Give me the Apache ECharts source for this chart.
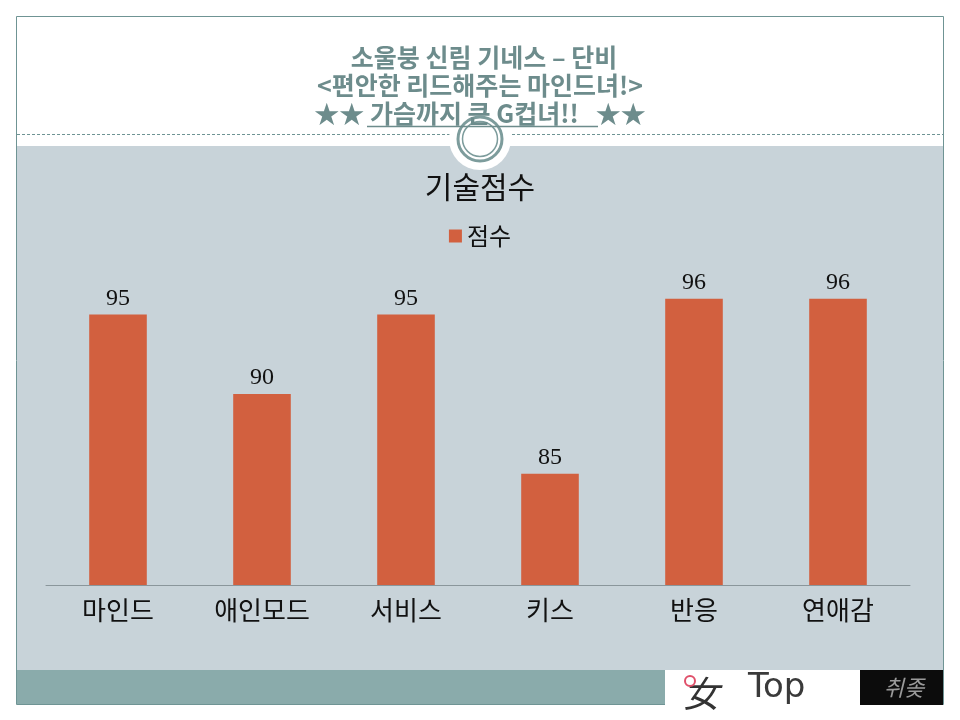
<!DOCTYPE html>
<html>
<head>
<meta charset="utf-8">
<script src="https://cdn.jsdelivr.net/npm/echarts@6/dist/echarts.min.js"></script>
<style>html,body{margin:0;padding:0;background:#fff;}#c{width:960px;height:720px;}</style>
</head>
<body>
<div id="c"></div>
<script>
const categories = ['마인드', '애인모드', '서비스', '키스', '반응', '연애감'];
const scores = [95, 90, 95, 85, 96, 96];
const seriesName = '점수';
const chartTitle = '기술점수';
const headLines = ['소울붕 신림 기네스 – 단비', '<편안한 리드해주는 마인드녀!>', '★★ 가슴까지 큰 G컵녀!!   ★★'];

const chart = echarts.init(document.getElementById('c'), null, {renderer: 'canvas'});
const KR = '"Noto Sans CJK KR", sans-serif';
const SERIF = '"Liberation Serif", "DejaVu Serif", serif';
const teal = '#6f9494';
const headColor = '#6d8c8c';

chart.setOption({
  backgroundColor: '#ffffff',
  animation: false,
  title: {
    text: chartTitle, left: 'center', top: 167,
    textStyle: {fontFamily: KR, fontSize: 30, fontWeight: 'normal', color: '#111'}
  },
  legend: {
    data: [seriesName], top: 219, left: 'center',
    icon: 'rect', itemWidth: 13, itemHeight: 13, itemGap: 6,
    textStyle: {fontFamily: KR, fontSize: 24, color: '#111'}
  },
  grid: {left: 46, right: 50, top: 235, bottom: 135, containLabel: false},
  xAxis: {
    type: 'category', data: categories,
    axisLine: {lineStyle: {color: '#8a969b', width: 1}},
    axisTick: {show: false},
    axisLabel: {fontFamily: KR, fontSize: 26, color: '#111', margin: 12}
  },
  yAxis: {type: 'value', min: 78, max: 100, show: false, splitLine: {show: false}},
  series: [{
    name: seriesName, type: 'bar', data: scores, barWidth: '40%',
    itemStyle: {color: '#d2603f'},
    label: {show: true, position: 'top', distance: 4, fontFamily: SERIF, fontSize: 24, color: '#111'}
  }],
  graphic: [
    {type: 'rect', z: -10, shape: {x: 16.5, y: 16.5, width: 927, height: 688}, style: {fill: '#ffffff', stroke: teal, lineWidth: 1}},
    {type: 'rect', z: -9, shape: {x: 17, y: 146, width: 926, height: 524}, style: {fill: '#c8d3d9'}},
    {type: 'rect', z: -9, shape: {x: 17, y: 670, width: 926, height: 34}, style: {fill: '#8aabab'}},
    {type: 'line', z: -8, shape: {x1: 17, y1: 134.5, x2: 943, y2: 134.5}, style: {stroke: teal, lineWidth: 1, lineDash: [3, 2]}},
    {type: 'circle', z: -7, shape: {cx: 480, cy: 139, r: 31}, style: {fill: '#ffffff'}},
    {type: 'circle', z: -6, shape: {cx: 480, cy: 139, r: 22}, style: {fill: 'none', stroke: '#7d9c9c', lineWidth: 3}},
    {type: 'circle', z: -6, shape: {cx: 480, cy: 139, r: 17.5}, style: {fill: 'none', stroke: '#7d9c9c', lineWidth: 1.5}},
    {type: 'text', z: 5, style: {text: headLines[0], x: 484, y: 57, align: 'center', verticalAlign: 'middle', font: 'bold 25px ' + KR, fill: headColor}},
    {type: 'text', z: 5, style: {text: headLines[1], x: 480, y: 85, align: 'center', verticalAlign: 'middle', font: 'bold 25px ' + KR, fill: headColor}},
    {type: 'text', z: 5, style: {text: headLines[2], x: 480, y: 113, align: 'center', verticalAlign: 'middle', font: 'bold 25px ' + KR, fill: headColor}},
    {type: 'line', z: 5, shape: {x1: 367, y1: 126.5, x2: 598, y2: 126.5}, style: {stroke: headColor, lineWidth: 1.5}},
    {type: 'rect', z: 6, shape: {x: 665, y: 670, width: 195, height: 45}, style: {fill: '#ffffff'}},
    {type: 'text', z: 7, style: {text: '女', x: 683, y: 693, verticalAlign: 'middle', font: 'italic 36px ' + KR, fill: '#333'}},
    {type: 'text', z: 7, style: {text: 'Top', x: 748, y: 688, verticalAlign: 'middle', font: '34px "DejaVu Sans", sans-serif', fill: '#3a3a3a'}},
    {type: 'circle', z: 7, shape: {cx: 690, cy: 681, r: 5}, style: {fill: 'none', stroke: '#e0506a', lineWidth: 2}},
    {type: 'rect', z: 6, shape: {x: 860, y: 670, width: 83, height: 35}, style: {fill: '#0c0c0c'}},
    {type: 'text', z: 7, style: {text: '취좆', x: 904, y: 688, align: 'center', verticalAlign: 'middle', font: 'italic 22px ' + KR, fill: '#9a9a9a'}}
  ]
});
</script>
</body>
</html>
